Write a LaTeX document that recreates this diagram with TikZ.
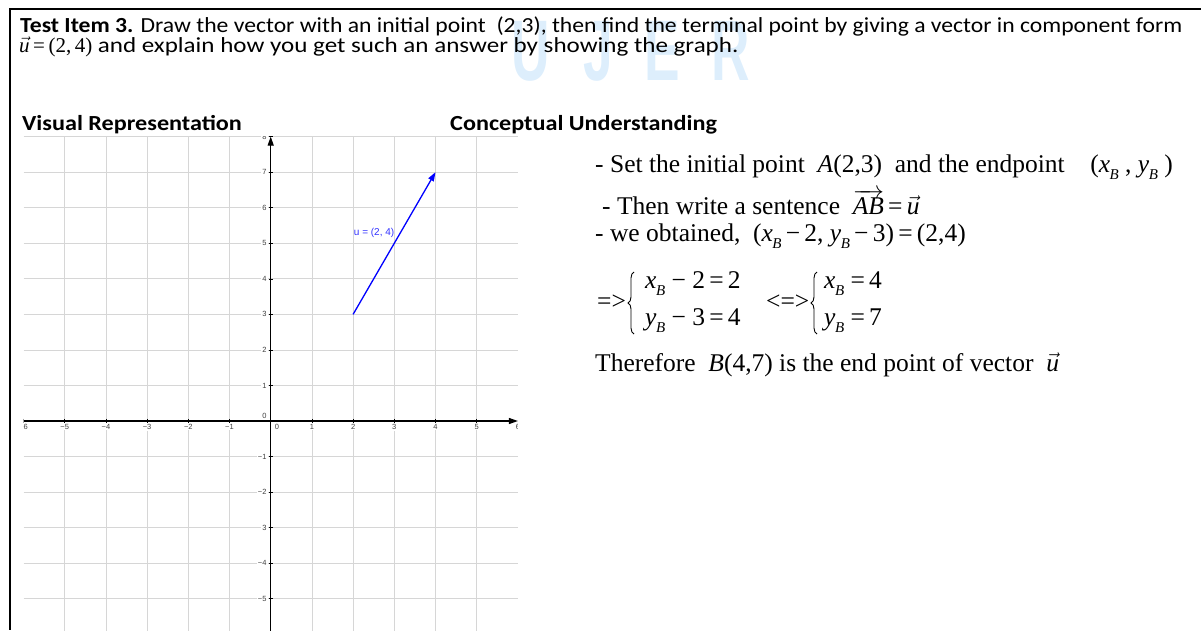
\documentclass[tikz,border=0pt]{standalone}
\usepackage{fontspec}
\setmainfont{Liberation Serif}
\newfontfamily\carl{Carlito}
\newfontfamily\lsans{Liberation Sans}
\usetikzlibrary{arrows.meta,decorations.pathreplacing,positioning}
\newcommand\xB{\textit{x}\kern-0.5pt\raisebox{-0.28em}{\fontsize{15}{15}\selectfont\textit{B}}}
\newcommand\yB{\textit{y}\kern-0.5pt\raisebox{-0.28em}{\fontsize{15}{15}\selectfont\textit{B}}}
\newcommand\vu{$\vec{\mbox{\textit{u}}}$}
\newcommand\hs[2][1.1]{\scalebox{#1}[1]{#2}}
\begin{document}
\begin{tikzpicture}[x=1pt,y=-1pt,
  hdr/.style={anchor=base west, inner sep=0pt, font=\carl\fontsize{21.5}{26}\selectfont},
  txt/.style={anchor=base west, inner sep=0pt, font=\fontsize{25.5}{30}\selectfont},
  ticklab/.style={font=\lsans\fontsize{7.5}{8}\selectfont, text=black!75, fill=white, inner sep=1pt},
  gridline/.style={draw=black!16, line width=0.8pt},
  axisline/.style={draw=black, line width=1.2pt, -{Triangle[length=9pt,width=6pt]}},
  vecline/.style={draw=blue, line width=1.3pt, -{Triangle[length=9pt,width=6pt]}},
  framepart/.style={draw=black, line width=2.2pt},
  wm/.style={font=\lsans\bfseries\fontsize{86}{86}\selectfont, text={rgb,255:red,221;green,238;blue,252}, inner sep=0pt, anchor=base, xscale=0.62},
  bracepart/.style={decorate, decoration={brace, amplitude=6pt}, line width=0.9pt}
]
\useasboundingbox (0,0) rectangle (1201,630);
% watermark
\node[wm] (wmU) at (531,80) {U};
\node[wm] (wmJ) at (598,80) {J};
\node[wm] (wmE) at (662,80) {E};
\node[wm] (wmR) at (731,80) {R};
% frame
\coordinate (fTL) at (10,9);
\coordinate (fTR) at (1201,9);
\coordinate (fBL) at (10,630);
\draw[framepart] (fTR) -- (fTL) -- (fBL);
% header
\node[hdr] (h1) at (20,32) {\hs{\textbf{Test Item 3.} Draw the vector with an initial point\ \ (2,3), then find the terminal point by giving a vector in component form}};
\node[hdr] (h2) at (19,52) {{\rmfamily\fontsize{21}{22}\selectfont\vu\,=\,(2,\,4)}\hs[1.165]{ and explain how you get such an answer by showing the graph.}};
\node[hdr] (vis) at (22,130) {\hs[1.125]{\textbf{Visual Representation}}};
\node[hdr] (con) at (450,130) {\hs[1.125]{\textbf{Conceptual Understanding}}};
% graph
\begin{scope}[shift={(270.7,421)}, x=41.2pt, y=35.55pt]
  \begin{scope}
    \clip (-6,-5.95) rectangle (6,8);
    \foreach \i in {-5,...,-1,1,2,...,5} \draw[gridline] (\i,-5.95) -- (\i,8);
    \foreach \j in {-5,...,-1,1,2,...,8} \draw[gridline] (-6,\j) -- (6,\j);
    \foreach \i in {-6,...,-1,1,2,...,6} \draw[black, line width=0.6pt] (\i,0.06) -- (\i,-0.06);
    \foreach \j in {-5,...,-1,1,2,...,8} \draw[black, line width=0.6pt] (-0.05,\j) -- (0.05,\j);
    \foreach \j/\t in {8/8,7/7,6/6,5/5,4/4,3/3,2/2,1/1,-1/−1,-2/−2,-3/3,-4/−4,-5/−5}
      \node[ticklab, anchor=east] (yl\j) at ([xshift=-3pt]0,\j) {\t};
    \foreach \i/\t in {-6/−6,-5/−5,-4/−4,-3/−3,-2/−2,-1/−1,1/1,2/2,3/3,4/4,5/5,6/6}
      \node[ticklab, anchor=north] (xl\i) at ([yshift=-2pt]\i,0) {\t};
    \node[ticklab, anchor=south east] (yl0) at ([xshift=-3pt,yshift=1pt]0,0) {0};
    \node[ticklab, anchor=north west] (xl0) at ([xshift=3pt,yshift=-2pt]0,0) {0};
  \end{scope}
  \coordinate (yb) at (0,-5.95);
  \coordinate (yt) at (0,8);
  \coordinate (xl) at (-6,0);
  \coordinate (xr) at (6,0);
  \draw[axisline] (yb) -- (yt);
  \draw[axisline] (xl) -- (xr);
  \coordinate (A) at (2,3);
  \coordinate (B) at (4,7);
  \draw[vecline] (A) -- (B);
  \node[font=\lsans\fontsize{10}{11}\selectfont, text={rgb,255:red,50;green,50;blue,255}, inner sep=0pt] (ulab) at (2.51,5.29) {u = (2, 4)};
\end{scope}
% right text
\node[txt] (t1) at (595,172) {- Set the initial point\ \ \textit{A}(2,3)\ \ and the endpoint\ \ \ \ (\xB\ ,\ \yB\ )};
\node[txt] (t2) at (602,214) {- Then write a sentence\ \ $\overrightarrow{\mbox{\textit{AB}}}$\,=\,\vu};
\node[txt] (t3) at (595,241) {- we obtained,\ \ (\xB\,−\,2, \yB\,−\,3)\,=\,(2,4)};
\node[txt, anchor=west] (imp) at (597,302) {=>};
\coordinate (b1b) at (634,334);
\coordinate (b1t) at (634,272);
\draw[bracepart] (b1b) -- (b1t);
\node[txt] (r1) at (645,288) {\xB\ −\ 2\,=\,2};
\node[txt] (r2) at (645,325) {\yB\ −\ 3\,=\,4};
\node[txt, anchor=west] (equ) at (766,302) {<=>};
\coordinate (b2b) at (817,334);
\coordinate (b2t) at (817,272);
\draw[bracepart] (b2b) -- (b2t);
\node[txt] (s1) at (824,288) {\xB\ =\,4};
\node[txt] (s2) at (824,325) {\yB\ =\,7};
\node[txt] (t4) at (595,371) {Therefore\ \ \textit{B}(4,7) is the end point of vector\ \ \vu};
\end{tikzpicture}
\end{document}
